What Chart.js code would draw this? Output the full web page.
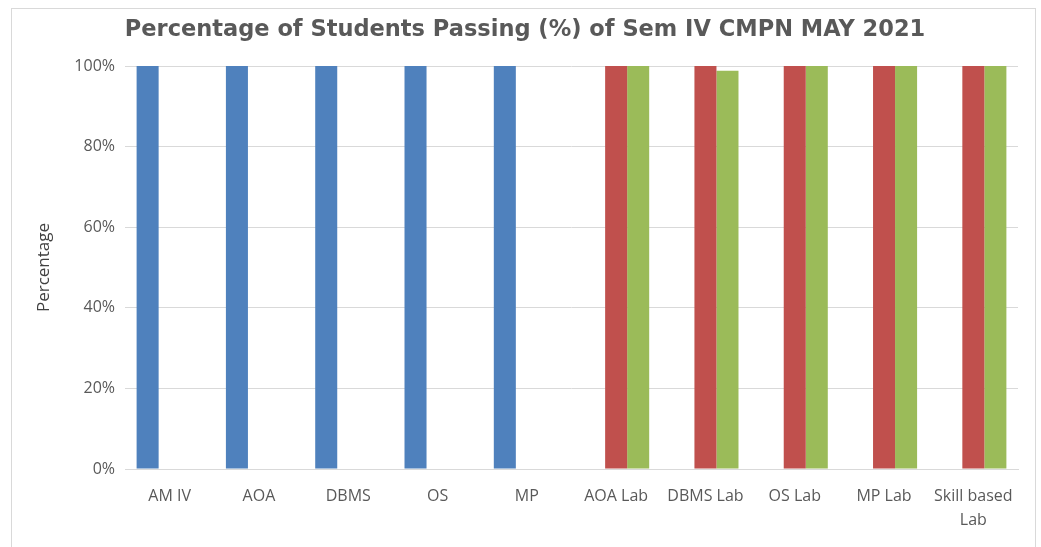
<!DOCTYPE html>
<html>
<head>
<meta charset="utf-8">
<script src="https://cdn.jsdelivr.net/npm/chart.js@4"></script>
<style>
  body { margin: 0; background: #fff; }
  #wrap { position: relative; width: 1041px; height: 547px; }
  #frame { position: absolute; left: 11px; top: 8px; width: 1023px; height: 560px;
           border: 1px solid #d9d9d9; pointer-events: none; }
</style>
</head>
<body>
<div id="wrap">
  <canvas id="chart" width="1041" height="547"></canvas>
  <div id="frame"></div>
</div>
<script>
const categories = ['AM IV', 'AOA', 'DBMS', 'OS', 'MP', 'AOA Lab', 'DBMS Lab', 'OS Lab', 'MP Lab', ['Skill based', 'Lab']];
const theory    = [100, 100, 100, 100, 100, null, null, null, null, null];
const termWork  = [null, null, null, null, null, 100, 100, 100, 100, 100];
const oral      = [null, null, null, null, null, 100, 98.8, 100, 100, 100];
const yTicks    = [0, 20, 40, 60, 80, 100];

const grey = '#595959';
const canvas = document.getElementById('chart');

new Chart(canvas, {
  type: 'bar',
  data: {
    labels: categories,
    datasets: [
      { label: 'Theory', data: theory, backgroundColor: '#4f81bd' },
      { label: 'Term Work', data: termWork, backgroundColor: '#c0504d' },
      { label: 'Oral / Practical', data: oral, backgroundColor: '#9bbb59' }
    ]
  },
  options: {
    responsive: false,
    animation: false,
    layout: { padding: { left: 32, right: 23, top: 0, bottom: 0 } },
    datasets: { bar: { categoryPercentage: 0.74, barPercentage: 1 } },
    plugins: {
      legend: { display: false },
      tooltip: { enabled: false },
      title: {
        display: true,
        text: 'Percentage of Students Passing (%) of Sem IV CMPN MAY 2021',
        color: grey,
        font: { family: 'DejaVu Sans', size: 22.5, weight: 'bold', lineHeight: 1.2 },
        padding: { top: 17, bottom: 22 }
      }
    },
    scales: {
      x: {
        grid: { display: false, drawTicks: false },
        border: { color: '#d9d9d9' },
        ticks: { color: grey, padding: 15, maxRotation: 0, autoSkip: false,
                 font: { family: 'Open Sans', size: 16, lineHeight: 1.5 } },
        afterFit: s => { s.height = 78; }
      },
      y: {
        min: 0, max: 100,
        afterBuildTicks: s => { s.ticks = yTicks.map(v => ({ value: v })); },
        grid: { color: '#d9d9d9', drawTicks: false },
        border: { display: false },
        ticks: { color: grey, padding: 10, callback: v => v + '%',
                 font: { family: 'Open Sans', size: 16 } },
        title: { display: true, text: 'Percentage', color: '#404040', padding: 2,
                 font: { family: 'Open Sans', size: 17 } },
        afterFit: s => { s.width = 93; }
      }
    }
  }
});
</script>
</body>
</html>
